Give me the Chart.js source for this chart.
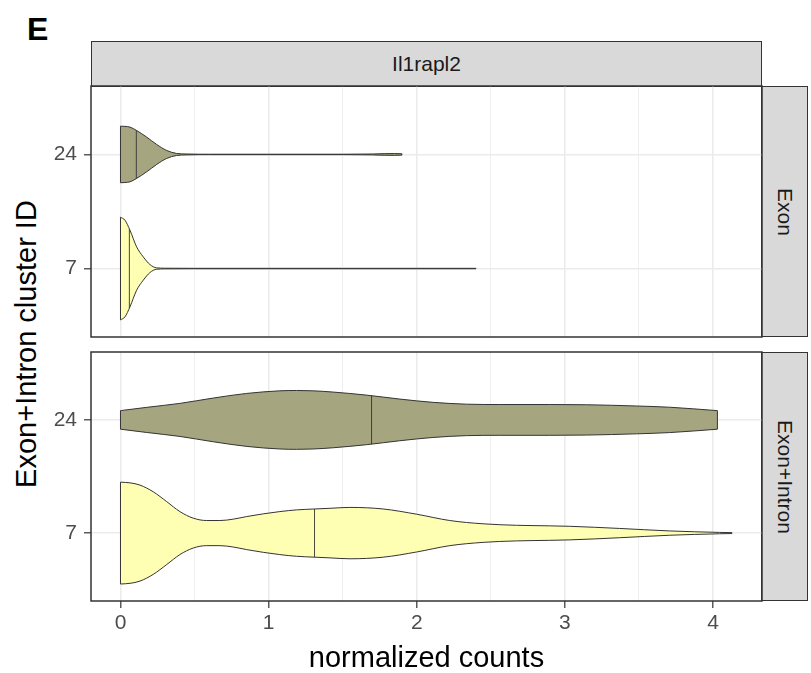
<!DOCTYPE html>
<html>
<head>
<meta charset="utf-8">
<script src="https://cdn.jsdelivr.net/npm/chart.js@4.4.1/dist/chart.umd.min.js"></script>
<style>
  body { margin: 0; background: #fff; }
  #wrap { position: relative; width: 811px; height: 673px; overflow: hidden;
          font-family: "Liberation Sans", Arial, sans-serif; }
  canvas { position: absolute; left: 0; }
  .strip { position: absolute; background: #d9d9d9; border: 1.4px solid #333; box-sizing: border-box;
           color: #1a1a1a; font-size: 21px; display: flex; align-items: center; justify-content: center; }
  .vert { writing-mode: vertical-rl; }
  #ytitle { position: absolute; left: -174px; top: 328px; width: 400px; height: 32px; line-height: 32px;
            text-align: center; font-size: 29px; color: #000; transform: rotate(-90deg); }
  #tag { position: absolute; left: 27px; top: 11px; font-size: 32px; font-weight: bold; color: #000; }
</style>
</head>
<body>
<div id="wrap">
  <div id="tag">E</div>
  <div id="ytitle">Exon+Intron cluster ID</div>
  <div class="strip" style="left:91px; top:41px; width:671px; height:46px;">Il1rapl2</div>
  <div class="strip vert" style="left:761px; top:86px; width:47px; height:251px;">Exon</div>
  <div class="strip vert" style="left:761px; top:352px; width:47px; height:249px;">Exon+Intron</div>
  <canvas id="top" width="811" height="266" style="top:76px"></canvas>
  <canvas id="bottom" width="811" height="331" style="top:342px"></canvas>
</div>
<script>
// axis ticks
const xTicks = [0, 0.5, 1, 1.5, 2, 2.5, 3, 3.5, 4];
const xLabels = ['0', '', '1', '', '2', '', '3', '', '4'];
const yTicks = [1, 2];
const yLabels = ['7', '24'];
const clusterFill = { '7': '#FFFFB3', '24': '#A5A580' };

// Exon panel, cluster 24: normalized counts and violin half-widths
const exon24X = [0, 0.03, 0.064, 0.109, 0.177, 0.244, 0.312, 0.379, 0.45, 0.6, 1.0, 1.5, 1.7, 1.78, 1.85, 1.9];
const exon24W = [0.248, 0.246, 0.24, 0.21, 0.152, 0.088, 0.035, 0.009, 0.004, 0.002, 0.002, 0.002, 0.004, 0.007, 0.008, 0.006];
const exon24Median = 0.107;

// Exon panel, cluster 7
const exon7X = [0, 0.03, 0.064, 0.109, 0.154, 0.199, 0.244, 0.3, 0.5, 1.0, 1.5, 2.0, 2.4];
const exon7W = [0.45, 0.424, 0.336, 0.19, 0.102, 0.035, 0.006, 0.003, 0.002, 0.002, 0.002, 0.002, 0.002];
const exon7Median = 0.06;

// Exon+Intron panel, cluster 24
const ei24X = [0, 0.177, 0.401, 0.626, 0.852, 1.076, 1.189, 1.301, 1.436, 1.661, 1.886, 2.111, 2.336, 2.561, 2.898, 3.146, 3.483, 3.708, 4.03];
const ei24W = [0.082, 0.111, 0.146, 0.193, 0.234, 0.257, 0.26, 0.257, 0.246, 0.219, 0.184, 0.155, 0.139, 0.136, 0.136, 0.134, 0.123, 0.112, 0.082];
const ei24Median = 1.695;

// Exon+Intron panel, cluster 7
const ei7X = [0, 0.064, 0.132, 0.221, 0.312, 0.401, 0.491, 0.582, 0.671, 0.761, 0.852, 0.964, 1.076, 1.189, 1.312, 1.414, 1.549, 1.773, 1.999, 2.223, 2.448, 2.673, 2.898, 3.033, 3.37, 3.708, 4.045, 4.128];
const ei7W = [0.45, 0.444, 0.424, 0.365, 0.278, 0.19, 0.132, 0.111, 0.111, 0.123, 0.146, 0.17, 0.19, 0.205, 0.213, 0.219, 0.227, 0.213, 0.167, 0.111, 0.082, 0.069, 0.064, 0.06, 0.041, 0.019, 0.006, 0.004];
const ei7Median = 1.31;

const lineCol = '#333333';
const FONT = '"Liberation Sans", Arial, sans-serif';

function widthAt(xs, ws, v) {
  for (let i = 1; i < xs.length; i++) {
    if (v <= xs[i]) {
      const t = (v - xs[i - 1]) / (xs[i] - xs[i - 1]);
      return ws[i - 1] + t * (ws[i] - ws[i - 1]);
    }
  }
  return ws[ws.length - 1];
}

function violin(xs, ws, pos, median, fill) {
  const base = { showLine: true, pointRadius: 0, borderColor: lineCol, borderWidth: 1, fill: false };
  const n = xs.length - 1;
  const mw = widthAt(xs, ws, median);
  return [
    Object.assign({}, base, { data: xs.map((x, i) => ({ x: x, y: pos + ws[i] })), fill: '+1',
      backgroundColor: fill, cubicInterpolationMode: 'monotone' }),
    Object.assign({}, base, { data: xs.map((x, i) => ({ x: x, y: pos - ws[i] })),
      cubicInterpolationMode: 'monotone' }),
    Object.assign({}, base, { data: [{ x: xs[0], y: pos - ws[0] }, { x: xs[0], y: pos + ws[0] }] }),
    Object.assign({}, base, { data: [{ x: xs[n], y: pos - ws[n] }, { x: xs[n], y: pos + ws[n] }] }),
    Object.assign({}, base, { data: [{ x: median, y: pos - mw }, { x: median, y: pos + mw }], borderWidth: 0.9 })
  ];
}

const panelBox = {
  id: 'panelBox',
  afterDatasetsDraw(chart) {
    const a = chart.chartArea, c = chart.ctx;
    c.save();
    c.strokeStyle = lineCol;
    c.lineWidth = 1.5;
    c.strokeRect(a.left, a.top, a.right - a.left, a.bottom - a.top);
    c.restore();
  }
};

function makePanel(id, datasets, showX) {
  new Chart(document.getElementById(id), {
    type: 'scatter',
    data: { datasets: datasets },
    plugins: [panelBox],
    options: {
      responsive: false,
      animation: false,
      layout: { padding: { top: 10, right: 49, left: 0, bottom: 0 } },
      plugins: {
        legend: { display: false },
        tooltip: { enabled: false },
        filler: { drawTime: 'beforeDatasetsDraw' }
      },
      scales: {
        x: {
          type: 'linear', min: -0.199, max: 4.331,
          afterBuildTicks: s => { s.ticks = xTicks.map(v => ({ value: v })); },
          afterFit: s => {
            s.height = showX ? 72 : 5;
            s.paddingLeft = 0; s.paddingRight = 0;
          },
          border: { display: false },
          grid: {
            color: '#ebebeb',
            lineWidth: c => (c.index % 2 === 0 ? 1.6 : 0.8),
            drawTicks: showX,
            tickLength: 7,
            tickWidth: 1.2,
            tickColor: c => (c.index % 2 === 0 ? lineCol : 'rgba(0,0,0,0)')
          },
          ticks: {
            display: showX,
            autoSkip: false,
            maxRotation: 0,
            padding: 3,
            color: '#4d4d4d',
            font: { family: FONT, size: 21 },
            callback: (v, i) => xLabels[i]
          },
          title: {
            display: showX,
            text: 'normalized counts',
            color: '#000',
            font: { family: FONT, size: 29, lineHeight: 1.0 },
            padding: { top: 0, bottom: 0 }
          }
        },
        y: {
          type: 'linear', min: 0.4, max: 2.6,
          afterBuildTicks: s => { s.ticks = yTicks.map(v => ({ value: v })); },
          afterFit: s => {
            s.width = 91;
            s.paddingTop = 0; s.paddingBottom = 0;
          },
          border: { display: false },
          grid: { color: '#ebebeb', lineWidth: 1.6, tickLength: 7, tickWidth: 1.2, tickColor: lineCol },
          ticks: {
            padding: 7,
            color: '#4d4d4d',
            font: { family: FONT, size: 21 },
            callback: (v, i) => yLabels[i]
          }
        }
      }
    }
  });
}

makePanel('top', [].concat(
  violin(exon24X, exon24W, 2, exon24Median, clusterFill['24']),
  violin(exon7X, exon7W, 1, exon7Median, clusterFill['7'])
), false);

makePanel('bottom', [].concat(
  violin(ei24X, ei24W, 2, ei24Median, clusterFill['24']),
  violin(ei7X, ei7W, 1, ei7Median, clusterFill['7'])
), true);
</script>
</body>
</html>
